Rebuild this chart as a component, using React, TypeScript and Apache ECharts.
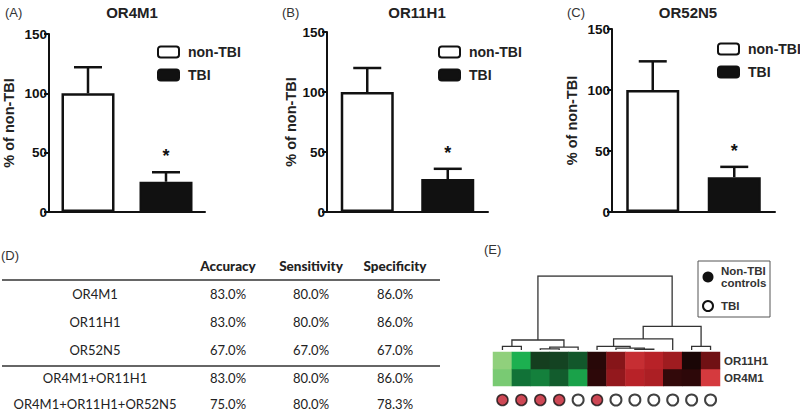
import React, { useEffect, useRef } from 'react';
import * as echarts from 'echarts';

// ---------- Data ----------
const groups = ['non-TBI', 'TBI'];
const panelLabels = ['(A)', '(B)', '(C)'];
const genes = ['OR4M1', 'OR11H1', 'OR52N5'];
const nonTbiMean = [100, 100, 100];
const nonTbiUpper = [122, 120, 123.5];
const tbiMean = [25.5, 27.5, 28.5];
const tbiUpper = [33.5, 36, 37];
const tbiSignificant = [true, true, true];
const yTicks = [0, 50, 100, 150];

const tableHeaders = ['Accuracy', 'Sensitivity', 'Specificity'];
const tableRows = ['OR4M1', 'OR11H1', 'OR52N5', 'OR4M1+OR11H1', 'OR4M1+OR11H1+OR52N5'];
const accuracy = ['83.0%', '83.0%', '67.0%', '83.0%', '75.0%'];
const sensitivity = ['80.0%', '80.0%', '67.0%', '80.0%', '80.0%'];
const specificity = ['86.0%', '86.0%', '67.0%', '86.0%', '78.3%'];

const heatGenes = ['OR4M1', 'OR11H1']; // bottom to top
const samples = ['S1', 'S2', 'S3', 'S4', 'S5', 'S6', 'S7', 'S8', 'S9', 'S10', 'S11', 'S12'];
const or11h1Expr = [-3, -2, -0.55, -0.6, -0.8, 0.15, 1.2, 2.4, 2.0, 1.6, 0, 0.9];
const or4m1Expr = [-2.8, -1.1, -1.3, -0.85, -1.8, 0.2, 1.4, 2.0, 1.8, 0.25, 0.2, 2.8];
const sampleGroup = ['Non-TBI', 'Non-TBI', 'Non-TBI', 'Non-TBI', 'TBI', 'Non-TBI', 'TBI', 'TBI', 'TBI', 'TBI', 'TBI', 'TBI'];
// dendrogram merges: [leftX, leftHeight, rightX, rightHeight, mergeHeight]
const dendroMerges = [
  [0, 0, 1, 0, 0.5],
  [2, 0, 3, 0, 0.15],
  [2.5, 0.15, 4, 0, 0.4],
  [0.5, 0.5, 3.25, 0.4, 1.35],
  [7, 0, 8, 0, 0.1],
  [6, 0, 7.5, 0.1, 0.25],
  [5, 0, 6.75, 0.25, 0.5],
  [5.875, 0.5, 9, 0, 1.5],
  [10, 0, 11, 0, 0.5],
  [7.44, 1.5, 10.5, 0.5, 3.2],
  [1.875, 1.35, 8.97, 3.2, 10],
];

const ARIAL = '"Liberation Sans", Arial, sans-serif';
const TABLE_FONT = 'Lato, "Open Sans", sans-serif';

// panel layout (pixels)
const panelGrids = [
  { left: 48, width: 157, top: 34, height: 178, title: 127, label: 0, legendLeft: 152, legendTop: 40, nameGap: 33 },
  { left: 327, width: 161, top: 32, height: 180, title: 412, label: 277, legendLeft: 433, legendTop: 40, nameGap: 29 },
  { left: 612, width: 163, top: 29, height: 183, title: 683, label: 562, legendLeft: 712, legendTop: 37, nameGap: 33 },
];

export default function App() {
  const ref = useRef<HTMLDivElement>(null);
  useEffect(() => {
    if (!ref.current) return;
    const chart = echarts.init(ref.current, undefined, { renderer: 'svg' });

    const grid: any[] = [];
    const xAxis: any[] = [];
    const yAxis: any[] = [];
    const series: any[] = [];
    const title: any[] = [];
    const legend: any[] = [];

    panelGrids.forEach((p, i) => {
      grid.push({ left: p.left, width: p.width, top: p.top, height: p.height });
      xAxis.push({
        type: 'category', gridIndex: i, data: groups,
        axisLine: { lineStyle: { color: '#111', width: 2 } },
        axisTick: { show: false }, axisLabel: { show: false },
      });
      yAxis.push({
        type: 'value', gridIndex: i, min: yTicks[0], max: yTicks[yTicks.length - 1], interval: 50,
        name: '% of non-TBI', nameLocation: 'middle', nameGap: p.nameGap,
        nameTextStyle: { fontFamily: ARIAL, fontWeight: 'bold', fontSize: 14.5, color: '#222' },
        axisLine: { show: true, lineStyle: { color: '#111', width: 2 } },
        axisTick: { show: true, length: 5, lineStyle: { width: 2, color: '#111' } },
        axisLabel: { fontFamily: ARIAL, fontWeight: 700, fontSize: 13.5, color: '#111', margin: 2 },
        splitLine: { show: false },
      });
      series.push({
        type: 'bar', name: 'non-TBI', xAxisIndex: i, yAxisIndex: i, barWidth: 53, barGap: '-100%',
        data: [nonTbiMean[i], '-'],
        itemStyle: { color: '#fff', borderColor: '#111', borderWidth: 2.5 },
      });
      series.push({
        type: 'bar', name: 'TBI', xAxisIndex: i, yAxisIndex: i, barWidth: 53, barGap: '-100%',
        data: ['-', tbiMean[i]],
        itemStyle: { color: '#111', borderColor: '#111', borderWidth: 2 },
      });
      series.push({
        type: 'custom', xAxisIndex: i, yAxisIndex: i, z: 5,
        data: [[0, nonTbiMean[i], nonTbiUpper[i], 0], [1, tbiMean[i], tbiUpper[i], tbiSignificant[i] ? 1 : 0]],
        renderItem: (params: any, api: any) => {
          const x = api.value(0);
          const base = api.coord([x, api.value(1)]);
          const top = api.coord([x, api.value(2)]);
          const children: any[] = [
            { type: 'line', shape: { x1: base[0], y1: base[1], x2: top[0], y2: top[1] }, style: { stroke: '#111', lineWidth: 2.5 } },
            { type: 'line', shape: { x1: top[0] - 14, y1: top[1], x2: top[0] + 14, y2: top[1] }, style: { stroke: '#111', lineWidth: 2.5 } },
          ];
          if (api.value(3) === 1) {
            children.push({
              type: 'text', x: top[0], y: top[1] - 16,
              style: { text: '*', fill: '#111', font: `bold 18px ${ARIAL}`, align: 'center', verticalAlign: 'middle', textAlign: 'center', textVerticalAlign: 'middle' },
            });
          }
          return { type: 'group', children };
        },
      });
      title.push({
        text: genes[i], left: p.title, top: 0, textAlign: 'center',
        textStyle: { fontFamily: ARIAL, fontWeight: 'bold', fontSize: 15, color: '#222' },
      });
      title.push({
        text: panelLabels[i], left: p.label, top: 1,
        textStyle: { fontFamily: ARIAL, fontWeight: 'normal', fontSize: 13, color: '#333' },
      });
      legend.push({
        orient: 'vertical', left: p.legendLeft, top: p.legendTop, data: groups,
        icon: 'roundRect', itemWidth: 21, itemHeight: 11, itemGap: 9,
        textStyle: { fontFamily: ARIAL, fontWeight: 'bold', fontSize: 14, color: '#222', padding: [0, 0, 0, 4] },
        selectedMode: false,
      });
    });

    // heatmap grid (index 3)
    grid.push({ left: 493, width: 227, top: 352, height: 34 });
    xAxis.push({ type: 'category', gridIndex: 3, data: samples, show: false });
    yAxis.push({
      type: 'category', gridIndex: 3, data: heatGenes, position: 'right',
      axisLine: { show: false }, axisTick: { show: false },
      axisLabel: { fontFamily: ARIAL, fontWeight: 'bold', fontSize: 11.5, color: '#333', margin: 4 },
    });
    const heatData: any[] = [];
    samples.forEach((_, j) => {
      heatData.push([j, 0, or4m1Expr[j]]);
      heatData.push([j, 1, or11h1Expr[j]]);
    });
    series.push({
      type: 'heatmap', xAxisIndex: 3, yAxisIndex: 3, data: heatData,
      itemStyle: { borderWidth: 0 },
    });

    // sample circles grid (index 4)
    grid.push({ left: 493, width: 227, top: 394, height: 12 });
    xAxis.push({ type: 'category', gridIndex: 4, data: samples, show: false });
    yAxis.push({ type: 'value', gridIndex: 4, min: 0, max: 1, show: false });
    series.push({
      type: 'scatter', xAxisIndex: 4, yAxisIndex: 4, symbol: 'circle', symbolSize: 11,
      data: sampleGroup.map((g, j) => ({
        value: [j, 0.5],
        itemStyle: g === 'TBI'
          ? { color: '#fff', borderColor: '#111', borderWidth: 2 }
          : { color: '#c01a2a', borderColor: '#111', borderWidth: 1.5 },
      })),
    });

    // dendrogram grid (index 5)
    grid.push({ left: 493, width: 227, top: 276, height: 74 });
    xAxis.push({ type: 'value', gridIndex: 5, min: -0.5, max: 11.5, show: false });
    yAxis.push({ type: 'value', gridIndex: 5, min: 0, max: 10, show: false });
    series.push({
      type: 'lines', coordinateSystem: 'cartesian2d', xAxisIndex: 5, yAxisIndex: 5, polyline: true,
      lineStyle: { color: '#333', width: 1.3, opacity: 1 },
      data: dendroMerges.map(([xl, hl, xr, hr, h]) => ({ coords: [[xl, hl], [xl, h], [xr, h], [xr, hr]] })),
    });

    // ---------- graphic: table D, labels, legend E ----------
    const graphic: any[] = [];
    const txt = (text: string, x: number, y: number, font: string, fill = '#222', align = 'center') => ({
      type: 'text', x, y,
      style: { text, font, fill, align, verticalAlign: 'middle', textAlign: align, textVerticalAlign: 'middle' },
    });
    graphic.push(txt('(D)', 1, 255, `13px ${ARIAL}`, '#333', 'left'));
    graphic.push(txt('(E)', 484, 249, `13px ${ARIAL}`, '#333', 'left'));
    const colX = [228, 311, 395];
    const rowY = [294, 322, 350, 378, 404];
    tableHeaders.forEach((h, k) => graphic.push(txt(h, colX[k], 266, `900 13.5px ${TABLE_FONT}`, '#222')));
    graphic.push({ type: 'line', shape: { x1: 2, y1: 280, x2: 440, y2: 280 }, style: { stroke: '#333', lineWidth: 1.5 } });
    graphic.push({ type: 'line', shape: { x1: 2, y1: 366, x2: 440, y2: 366 }, style: { stroke: '#333', lineWidth: 1.5 } });
    tableRows.forEach((r, k) => {
      graphic.push(txt(r, 95, rowY[k], `13px ${TABLE_FONT}`, '#222'));
      graphic.push(txt(accuracy[k], colX[0], rowY[k], `13px ${TABLE_FONT}`, '#222'));
      graphic.push(txt(sensitivity[k], colX[1], rowY[k], `13px ${TABLE_FONT}`, '#222'));
      graphic.push(txt(specificity[k], colX[2], rowY[k], `13px ${TABLE_FONT}`, '#222'));
    });
    // legend E
    graphic.push({ type: 'rect', shape: { x: 698, y: 261, width: 72, height: 56 }, style: { fill: '#fff', stroke: '#555', lineWidth: 1 } });
    graphic.push({ type: 'circle', shape: { cx: 708, cy: 277, r: 5.5 }, style: { fill: '#111' } });
    graphic.push({ type: 'circle', shape: { cx: 708, cy: 306, r: 5 }, style: { fill: '#fff', stroke: '#111', lineWidth: 2 } });
    graphic.push(txt('Non-TBI', 721, 271, `bold 11.5px ${ARIAL}`, '#333', 'left'));
    graphic.push(txt('controls', 721, 283, `bold 11.5px ${ARIAL}`, '#333', 'left'));
    graphic.push(txt('TBI', 721, 306, `bold 11.5px ${ARIAL}`, '#333', 'left'));

    chart.setOption({
      animation: false,
      backgroundColor: '#fff',
      title, legend, grid, xAxis, yAxis, series, graphic,
      visualMap: {
        show: false, type: 'continuous', min: -3, max: 3, seriesIndex: 9, dimension: 2,
        inRange: { color: ['#90d07c', '#1cb050', '#106b34', '#1a0606', '#7a1215', '#b82228', '#dc4044'] },
      },
    });
    return () => chart.dispose();
  }, []);
  return <div ref={ref} style={{ position: 'fixed', left: 0, top: 0, width: 800, height: 413 }} />;
}
